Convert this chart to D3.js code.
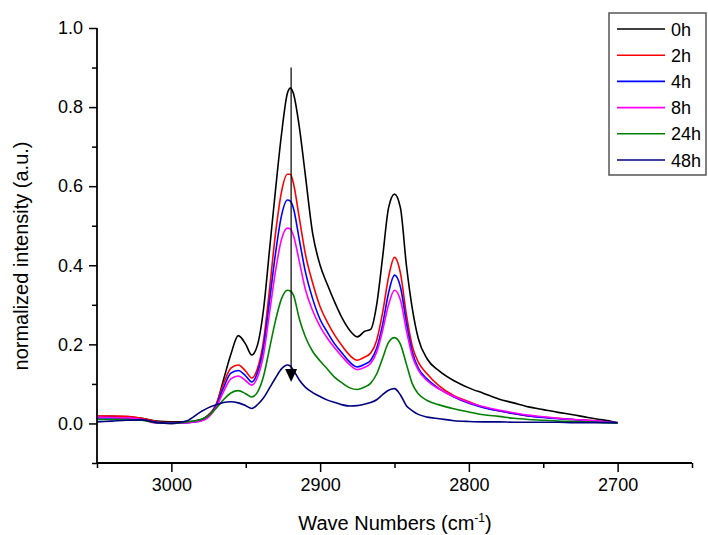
<!DOCTYPE html>
<html><head><meta charset="utf-8">
<script src="https://cdn.jsdelivr.net/npm/d3@7/dist/d3.min.js"></script>
<style>html,body{margin:0;padding:0;background:#fff;}svg{display:block;font-family:"Liberation Sans",Arial,sans-serif;}</style>
</head><body>
<svg id="chart" width="708" height="535"></svg>
<script>
const wavenumbers = [3050,3040,3030,3020,3010,3000,2990,2980,2975,2970,2965,2960,2955,2950,2946,2942,2938,2934,2930,2926,2922,2920,2918,2914,2910,2905,2900,2895,2890,2885,2880,2875,2870,2866,2862,2858,2854,2850,2846,2842,2838,2834,2828,2820,2810,2800,2790,2780,2770,2760,2750,2740,2730,2720,2710,2700];
const h0  = [.018,.018,.017,.013,.006,.004,.004,.01,.022,.045,.11,.175,.222,.2,.173,.2,.29,.44,.59,.73,.835,.848,.835,.75,.63,.48,.40,.35,.305,.265,.235,.219,.233,.238,.30,.42,.545,.58,.545,.40,.29,.215,.163,.133,.108,.09,.076,.062,.052,.042,.035,.028,.022,.015,.009,.002];
const h2  = [.019,.019,.018,.013,.005,.002,.002,.008,.02,.048,.1,.14,.148,.132,.115,.14,.21,.34,.48,.585,.63,.63,.608,.52,.43,.355,.295,.255,.222,.195,.172,.16,.168,.178,.21,.28,.37,.42,.38,.275,.195,.155,.125,.095,.07,.055,.041,.032,.025,.019,.016,.013,.01,.008,.005,.001];
const h4  = [.014,.014,.013,.01,.003,.001,.002,.007,.018,.044,.09,.127,.134,.12,.105,.13,.195,.31,.43,.525,.565,.562,.545,.465,.385,.315,.263,.23,.2,.177,.155,.143,.15,.16,.19,.25,.33,.375,.345,.255,.18,.14,.112,.088,.067,.051,.04,.032,.025,.019,.015,.012,.01,.007,.005,.001];
const h8  = [.016,.015,.014,.01,.001,0,.002,.006,.016,.04,.08,.113,.12,.108,.097,.118,.175,.28,.385,.465,.494,.492,.476,.41,.34,.285,.245,.215,.19,.168,.148,.136,.142,.152,.18,.235,.3,.337,.312,.235,.17,.135,.108,.087,.068,.053,.042,.034,.027,.021,.017,.013,.01,.008,.005,.001];
const h24 = [.01,.01,.01,.008,.002,0,.004,.01,.02,.038,.06,.077,.083,.075,.067,.08,.12,.19,.26,.315,.337,.335,.325,.265,.22,.182,.158,.137,.116,.102,.09,.086,.092,.102,.125,.165,.205,.217,.2,.15,.1,.075,.058,.047,.037,.029,.022,.018,.013,.01,.008,.006,.005,.004,.002,.001];
const h48 = [.004,.006,.008,.009,.002,0,.006,.03,.04,.047,.053,.055,.052,.045,.038,.048,.065,.09,.115,.138,.148,.145,.135,.11,.092,.078,.068,.059,.053,.047,.044,.045,.049,.053,.06,.073,.084,.088,.072,.045,.032,.023,.016,.012,.007,.005,.004,.004,.003,.003,.003,.003,.002,.002,.002,.002];
const seriesNames = ["0h","2h","4h","8h","24h","48h"];
const seriesColors = ["#000000","#ff0000","#0000ff","#ff00ff","#008000","#000080"];
const seriesValues = [h0,h2,h4,h8,h24,h48];
const xMajorTicks = [3000,2900,2800,2700];
const xMinorTicks = [3050,2950,2850,2750,2650];
const yMajorTicks = [0,0.2,0.4,0.6,0.8,1.0];
const yMinorTicks = [-0.1,0.1,0.3,0.5,0.7,0.9];
const arrowX = 2919.5, arrowFrom = 0.9, arrowTo = 0.105;

const svg = d3.select("#chart");
const x = d3.scaleLinear().domain([3050,2650]).range([97,692]);
const y = d3.scaleLinear().domain([-0.1,1.0]).range([463,28]);

// curves
const line = d3.line().x(d=>x(d[0])).y(d=>y(d[1])).curve(d3.curveMonotoneX);
seriesValues.forEach((vals,i)=>{
  svg.append("path").datum(wavenumbers.map((w,j)=>[w,vals[j]]))
    .attr("d",line).attr("fill","none").attr("stroke",seriesColors[i])
    .attr("stroke-width",1.6).attr("stroke-linejoin","round");
});

// arrow
svg.append("line").attr("x1",x(arrowX)).attr("x2",x(arrowX))
  .attr("y1",y(arrowFrom)).attr("y2",y(arrowTo)-10)
  .attr("stroke","#000").attr("stroke-width",1.2);
const ax = x(arrowX), ay = y(arrowTo);
svg.append("path").attr("d",`M${ax-6},${ay-13}L${ax+6},${ay-13}L${ax},${ay}Z`).attr("fill","#000");

// axes
const gx = svg.append("g").attr("transform","translate(0,463)");
gx.call(d3.axisBottom(x).tickValues(xMajorTicks).tickSize(9).tickPadding(6).tickFormat(d3.format("d")));
const gxm = svg.append("g").attr("transform","translate(0,463)");
gxm.call(d3.axisBottom(x).tickValues(xMinorTicks).tickSize(5).tickFormat(""));
const gy = svg.append("g").attr("transform","translate(97,0)");
gy.call(d3.axisLeft(y).tickValues(yMajorTicks).tickSize(8).tickPadding(6).tickFormat(d3.format(".1f")));
const gym = svg.append("g").attr("transform","translate(97,0)");
gym.call(d3.axisLeft(y).tickValues(yMinorTicks).tickSize(5).tickFormat(""));
svg.selectAll(".domain").attr("stroke","#000").attr("stroke-width",1.8);
svg.selectAll(".tick line").attr("stroke","#000").attr("stroke-width",1.5);
svg.selectAll(".tick text").attr("font-size",18).attr("fill","#000").attr("font-family","Liberation Sans, Arial, sans-serif");
gxm.select(".domain").remove(); gym.select(".domain").remove();
gx.select(".domain").attr("d","M97,0H692");
gy.select(".domain").attr("d","M0,28V463");

// titles
const xt = svg.append("text").attr("x",395).attr("y",530).attr("text-anchor","middle")
  .attr("font-size",20).attr("fill","#000");
xt.append("tspan").text("Wave Numbers (cm");
xt.append("tspan").attr("dy",-8).attr("font-size",12).text("-1");
xt.append("tspan").attr("dy",8).text(")");
svg.append("text").attr("transform","translate(28,256) rotate(-90)").attr("text-anchor","middle")
  .attr("font-size",20).attr("fill","#000").text("normalized intensity (a.u.)");

// legend
svg.append("rect").attr("x",609).attr("y",13).attr("width",97).attr("height",162)
  .attr("fill","#fff").attr("stroke","#555").attr("stroke-width",1.5);
seriesNames.forEach((n,i)=>{
  const ly = 29 + i*26.2;
  svg.append("line").attr("x1",617).attr("x2",665).attr("y1",ly).attr("y2",ly)
    .attr("stroke",seriesColors[i]).attr("stroke-width",1.6);
  svg.append("text").attr("x",671).attr("y",ly+6.5).attr("font-size",18).attr("fill","#000").text(n);
});
</script>
</body></html>
